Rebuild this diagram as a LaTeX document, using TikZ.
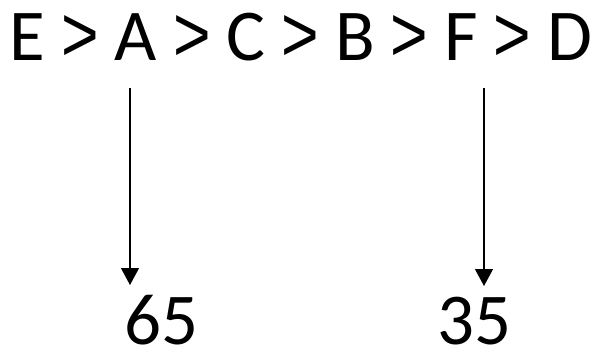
\documentclass[tikz,border=0pt]{standalone}
\usepackage{fontspec}
\usepackage{graphicx}
\setmainfont{Carlito}
\newfontfamily\gtfont{Liberation Sans}
\usetikzlibrary{arrows.meta}
\newcommand{\biggt}{\makebox[0.5em]{\raisebox{-0.5pt}{\scalebox{0.88}[1.08]{\gtfont >}}}}
\begin{document}
\begin{tikzpicture}[x=1pt,y=-1pt,
  bigtext/.style={inner sep=0pt,font=\fontsize{73}{80}\selectfont},
  pointer/.style={line width=1.2pt,-{Triangle[width=18pt,length=17pt]}}]
\useasboundingbox (0,0) rectangle (598,345);
\node[bigtext,anchor=base] (order) at (301,61) {E \biggt{} A \biggt{} C \biggt{} B \biggt{} F \biggt{} D};
\node[bigtext,anchor=base] (n65) at (161,344) {65};
\node[bigtext,anchor=base] (n35) at (474,344) {35};
\coordinate (a1) at (130,88);
\coordinate (a2) at (130,285);
\coordinate (f1) at (484,88);
\coordinate (f2) at (484,286);
\draw[pointer] (a1) -- (a2);
\draw[pointer] (f1) -- (f2);
\end{tikzpicture}
\end{document}
